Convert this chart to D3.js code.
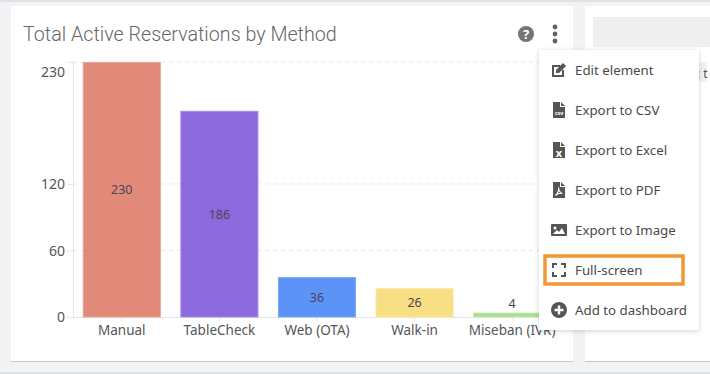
<!DOCTYPE html>
<html>
<head>
<meta charset="utf-8">
<script src="https://cdn.jsdelivr.net/npm/d3@7"></script>
<style>
body { margin: 0; background: #f2f3f5; overflow: hidden; }
text { font-family: "Noto Sans", sans-serif; }
</style>
</head>
<body>
<div class="content"></div>
<script>
var categories = ["Manual", "TableCheck", "Web (OTA)", "Walk-in", "Miseban (IVR)"]
var values = [230, 186, 36, 26, 4]
var barColors = ["#e18a7a", "#8c69dc", "#5d93f6", "#f9df83", "#acdd8f"]
var barStrokes = ["#eba193", "#a88af0", "#79a9fa", "#fbe8a4", "#c2e8aa"]
var yTicks = [0, 60, 120, 230]
var menuItems = ["Edit element", "Export to CSV", "Export to Excel", "Export to PDF", "Export to Image", "Full-screen", "Add to dashboard"]

var width = 710
var height = 374

var svg = d3.select(".content")
    .append("svg")
    .attr("width", width)
    .attr("height", height)
    .style("display", "block")

// page and cards
svg.append("rect").attr("width", width).attr("height", 2).attr("fill", "#dfe2e6")
svg.append("rect").attr("y", 372).attr("width", width).attr("height", 2).attr("fill", "#dfe2e6")

var defs = svg.append("defs")
var shadow = defs.append("filter").attr("id", "menuShadow")
    .attr("x", "-10%").attr("y", "-10%").attr("width", "120%").attr("height", "120%")
shadow.append("feDropShadow").attr("dx", 0).attr("dy", 1).attr("stdDeviation", 2.5)
    .attr("flood-color", "#000").attr("flood-opacity", 0.18)

function card(x, y, w, h) {
    svg.append("rect").attr("x", x).attr("y", y + 1).attr("width", w).attr("height", h)
        .attr("fill", "#c4c6c9")
    svg.append("rect").attr("x", x).attr("y", y).attr("width", w).attr("height", h)
        .attr("fill", "#fff")
}
card(11, 6, 562, 355)
card(585, 6, 125, 355)

svg.append("rect").attr("x", 593).attr("y", 17).attr("width", 117).attr("height", 30).attr("fill", "#efefef")
svg.append("rect").attr("x", 690).attr("y", 62).attr("width", 17).attr("height", 20).attr("fill", "#f1f1f1")
svg.append("text").attr("x", 697).attr("y", 78).attr("font-size", 12).attr("fill", "#555").text(": t")

svg.append("text")
    .attr("x", 23).attr("y", 41)
    .attr("font-size", 19.7)
    .attr("font-weight", 300)
    .attr("fill", "#666")
    .style("font-family", "Roboto, sans-serif")
    .text("Total Active Reservations by Method")

// chart
var x = d3.scaleBand().domain(categories).range([73, 561]).paddingInner(0.2).paddingOuter(0.1)
var y = d3.scaleLinear().domain([0, 230]).range([317, 62])

var grid = svg.append("g").attr("class", "grid")
grid.selectAll("line")
    .data(yTicks.filter(function(d) { return d > 0 }))
    .enter()
    .append("line")
    .attr("x1", 73).attr("x2", 561)
    .attr("y1", function(d) { return y(d) }).attr("y2", function(d) { return y(d) })
    .attr("stroke", "#e6e6e6")
    .attr("stroke-dasharray", "4,4")

var yAxis = svg.append("g")
    .attr("transform", "translate(73,0)")
    .call(d3.axisLeft(y).tickValues(yTicks).tickSize(6).tickPadding(2))
yAxis.select(".domain").attr("stroke", "#e6e6e6")
yAxis.selectAll("line").attr("stroke", "#e6e6e6")
yAxis.selectAll("text")
    .attr("font-size", 14)
    .attr("fill", "#555")
    .style("font-family", '"Noto Sans", sans-serif')
    .attr("dy", function(d) { return d === 230 ? "1.05em" : "0.34em" })

var xAxis = svg.append("g")
    .attr("transform", "translate(0,317)")
    .call(d3.axisBottom(x).tickSize(5).tickPadding(3))
xAxis.select(".domain").attr("stroke", "#e6e6e6").attr("d", "M73,0.5H561")
xAxis.selectAll("line").attr("stroke", "#e6e6e6")
xAxis.selectAll("text")
    .attr("font-size", 13.5)
    .attr("fill", "#555")
    .style("font-family", '"Noto Sans", sans-serif')

var bars = svg.append("g").attr("class", "bars")
bars.selectAll("rect")
    .data(values)
    .enter()
    .append("rect")
    .attr("x", function(d, i) { return x(categories[i]) + 0.5 })
    .attr("y", function(d) { return y(d) + 0.5 })
    .attr("width", x.bandwidth() - 1)
    .attr("height", function(d) { return y(0) - y(d) - 0.5 })
    .attr("fill", function(d, i) { return barColors[i] })
    .attr("stroke", function(d, i) { return barStrokes[i] })

bars.selectAll("text")
    .data(values)
    .enter()
    .append("text")
    .attr("x", function(d, i) { return x(categories[i]) + x.bandwidth() / 2 })
    .attr("y", function(d) { return d < 10 ? y(d) - 9 : (y(d) + y(0)) / 2 + 0.5 })
    .attr("dy", "0.35em")
    .attr("text-anchor", "middle")
    .attr("font-size", 12.5)
    .attr("fill", "#4a4458")
    .text(function(d) { return d })

// header icons
var help = svg.append("g").attr("transform", "translate(526,34)")
help.append("circle").attr("r", 8).attr("fill", "#757575")
help.append("text").attr("text-anchor", "middle").attr("y", 4.5).attr("font-size", 13)
    .attr("font-weight", 700).attr("fill", "#fff").text("?")
svg.selectAll(".dot").data([27, 34, 41]).enter().append("circle")
    .attr("class", "dot").attr("cx", 555).attr("cy", function(d) { return d })
    .attr("r", 2.4).attr("fill", "#616161")

// menu
svg.append("rect").attr("x", 539).attr("y", 50).attr("width", 160).attr("height", 280)
    .attr("fill", "#fff").attr("filter", "url(#menuShadow)")

var menuY = d3.scalePoint().domain(menuItems).range([70, 310])
var menu = svg.append("g").attr("class", "menu")
menu.selectAll("text")
    .data(menuItems)
    .enter()
    .append("text")
    .attr("x", 575)
    .attr("y", function(d) { return menuY(d) })
    .attr("dy", "0.35em")
    .attr("font-size", 13.3)
    .attr("fill", "#4a4a4a")
    .text(function(d) { return d })

var iconColor = "#555"
function icon(name) {
    return svg.append("g").attr("transform", "translate(559," + menuY(name) + ")")
        .attr("fill", iconColor)
}

var edit = icon("Edit element")
edit.append("path").attr("d", "M-7,-5H1V-3H-5V5H3V0H5V7H-7Z")
edit.append("path").attr("d", "M-3,3V0L4,-7L7,-4L0,3Z")

function fileIcon(name, label) {
    var g = icon(name)
    g.append("path").attr("d", "M-6,-8H1V-3H6V8H-6ZM2,-8L6,-4H2Z")
    g.append("text").attr("text-anchor", "middle").attr("y", label.length > 1 ? 5 : 6.5)
        .attr("font-size", label.length > 1 ? 5.5 : 11).attr("font-weight", 700).attr("fill", "#fff").text(label)
    return g
}
fileIcon("Export to CSV", "csv")
fileIcon("Export to Excel", "x")
fileIcon("Export to PDF", "").append("path")
    .attr("d", "M-3.5,5.5C-1,3 0,0 -0.5,-2.5C0,1 1.5,3 3.5,3.5C1,3 -1.5,3.5 -3.5,5.5")
    .attr("fill", "none").attr("stroke", "#fff").attr("stroke-width", 1.1)

var img = icon("Export to Image")
img.append("rect").attr("x", -8).attr("y", -6).attr("width", 16).attr("height", 12).attr("rx", 1)
img.append("circle").attr("cx", -4).attr("cy", -2).attr("r", 1.5).attr("fill", "#fff")
img.append("path").attr("d", "M-6,4L-2,0L0,2L3,-2L6,4Z").attr("fill", "#fff")

var full = icon("Full-screen").attr("fill", "none").attr("stroke", iconColor).attr("stroke-width", 2)
full.append("path").attr("d", "M-6,-2V-6H-2M2,-6H6V-2M6,2V6H2M-2,6H-6V2")

var add = icon("Add to dashboard")
add.append("circle").attr("r", 8)
add.append("path").attr("d", "M-4.5,0H4.5M0,-4.5V4.5").attr("stroke", "#fff").attr("stroke-width", 2.4)

// highlight on the full-screen entry
svg.append("rect").attr("x", 545).attr("y", 256).attr("width", 138).attr("height", 28)
    .attr("fill", "none").attr("stroke", "#f29636").attr("stroke-width", 3.5)
</script>
</body>
</html>
